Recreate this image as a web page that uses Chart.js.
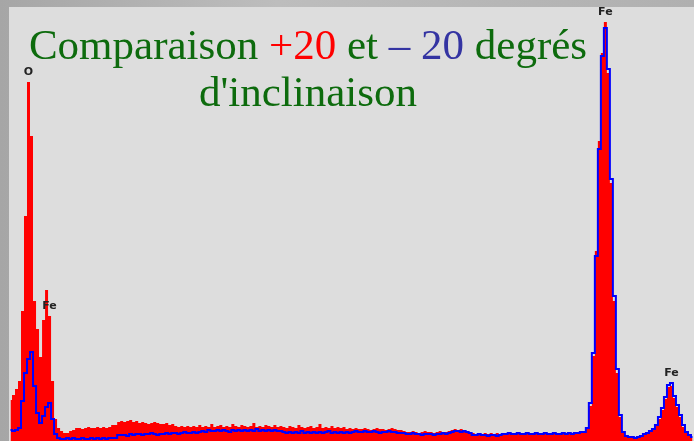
<!DOCTYPE html>
<html>
<head>
<meta charset="utf-8">
<script src="https://cdn.jsdelivr.net/npm/chart.js@4"></script>
<style>
    body {
        margin: 0;
        width: 694px;
        height: 441px;
        overflow: hidden;
        background: linear-gradient(90deg, #a6a6a6, #bdbdbd 40%, #b0b0b0);
        position: relative;
    }
    #panel {
        position: absolute;
        left: 9px;
        top: 7px;
        width: 685px;
        height: 434px;
        background: #dddddd;
    }
    #title {
        position: absolute;
        left: 0;
        top: 21px;
        width: 616px;
        text-align: center;
        font-family: "Liberation Serif", "Times New Roman", serif;
        font-size: 43px;
        line-height: 47px;
        color: #0d6b0d;
        white-space: nowrap;
    }
    #title .plus { color: #ff0000; }
    #title .minus { color: #3434a2; }
</style>
</head>
<body>
<div id="panel"><canvas id="spectrum" width="685" height="434"></canvas></div>
<div id="title">Comparaison <span class="plus">+20</span> et <span class="minus">– 20</span> degrés<br>d'inclinaison</div>
<script>
    // energy calibration of the channels (keV)
    const keVStart = 0.31;
    const keVStep = 0.0307;

    // counts for the +20 degree tilt (red, filled)
    const countsPlus20 = [
        41, 46, 52, 60, 130, 225, 359, 305, 140, 112, 84, 121, 151, 125, 60, 22, 13, 10, 8, 8,
        10, 11, 13, 13, 12, 13, 14, 13, 13, 14, 13, 14, 13, 14, 16, 16, 19, 20, 19, 20,
        21, 19, 20, 18, 19, 18, 17, 18, 19, 18, 17, 17, 18, 16, 17, 15, 14, 15, 14, 15,
        14, 15, 14, 16, 14, 15, 14, 17, 14, 15, 16, 14, 15, 14, 17, 15, 14, 16, 15, 14,
        15, 18, 14, 15, 14, 16, 15, 14, 16, 14, 15, 14, 13, 15, 14, 13, 16, 14, 13, 14,
        15, 13, 14, 17, 13, 14, 13, 15, 13, 14, 13, 14, 12, 13, 12, 13, 12, 12, 13, 12,
        11, 12, 13, 12, 12, 11, 12, 13, 12, 11, 11, 10, 9, 9, 10, 9, 8, 9, 10, 9,
        9, 8, 9, 10, 9, 9, 10, 11, 12, 11, 12, 11, 10, 9, 8, 7, 8, 7, 8, 7,
        8, 7, 8, 7, 7, 8, 9, 7, 8, 7, 8, 7, 7, 8, 7, 9, 7, 8, 7, 7,
        8, 7, 8, 7, 7, 8, 9, 8, 7, 8, 8, 9, 12, 35, 85, 190, 300, 388, 419, 368,
        258, 140, 68, 24, 8, 5, 4, 4, 3, 4, 5, 6, 7, 9, 11, 15, 22, 31, 42, 54,
        55, 43, 34, 24, 14, 8, 5, 3
    ];

    // counts for the -20 degree tilt (blue line)
    const countsMinus20 = [
        11, 10, 11, 13, 40, 68, 82, 89, 55, 28, 18, 25, 34, 38, 22, 7, 3, 2, 2, 3,
        2, 3, 2, 2, 3, 2, 2, 3, 2, 3, 2, 3, 2, 3, 3, 3, 6, 6, 6, 5,
        7, 6, 7, 7, 6, 7, 7, 8, 7, 6, 7, 7, 8, 7, 8, 8, 7, 8, 9, 8,
        8, 9, 8, 9, 10, 9, 11, 10, 10, 11, 10, 11, 10, 9, 11, 10, 11, 10, 11, 10,
        11, 10, 12, 10, 11, 10, 11, 10, 11, 10, 10, 9, 8, 9, 8, 9, 8, 10, 8, 9,
        8, 9, 8, 9, 8, 9, 10, 8, 9, 8, 9, 8, 9, 8, 9, 10, 9, 9, 10, 9,
        9, 10, 9, 8, 9, 9, 10, 9, 9, 8, 8, 8, 7, 7, 8, 7, 7, 6, 7, 7,
        7, 6, 7, 7, 8, 7, 8, 9, 10, 10, 9, 10, 9, 8, 6, 6, 7, 6, 6, 5,
        6, 6, 5, 6, 7, 7, 8, 7, 7, 8, 7, 7, 8, 7, 7, 8, 7, 7, 8, 7,
        7, 8, 7, 7, 8, 7, 8, 7, 8, 8, 9, 9, 13, 38, 88, 185, 292, 385, 413, 372,
        262, 145, 72, 26, 9, 5, 4, 4, 3, 4, 5, 7, 8, 10, 12, 16, 24, 33, 44, 56,
        58, 45, 36, 26, 16, 9, 6, 4
    ];

    // identified peaks: element and channel
    const peakNames = ['O', 'Fe', 'Fe', 'Fe'];
    const peakChannels = [6, 13, 198, 220];

    const energies = countsPlus20.map((c, i) => (keVStart + i * keVStep).toFixed(2));

    const peakLabels = {
        id: 'peakLabels',
        afterDatasetsDraw(chart) {
            const ctx = chart.ctx;
            const x = chart.scales.x;
            const y = chart.scales.y;
            ctx.save();
            ctx.font = 'bold 11px "DejaVu Sans", sans-serif';
            ctx.fillStyle = '#222222';
            ctx.textAlign = 'center';
            ctx.textBaseline = 'bottom';
            peakNames.forEach((name, k) => {
                const ch = peakChannels[k];
                const top = Math.max(countsPlus20[ch], countsMinus20[ch]);
                ctx.fillText(name, x.getPixelForValue(ch), y.getPixelForValue(top) - 4);
            });
            ctx.restore();
        }
    };

    new Chart(document.getElementById('spectrum').getContext('2d'), {
        type: 'line',
        data: {
            labels: energies,
            datasets: [
                {
                    label: '-20°',
                    data: countsMinus20,
                    borderColor: '#0000ff',
                    borderWidth: 2,
                    pointRadius: 0,
                    stepped: 'middle',
                    fill: false,
                    order: 0
                },
                {
                    label: '+20°',
                    data: countsPlus20,
                    borderWidth: 0,
                    borderColor: '#ff0000',
                    backgroundColor: '#ff0000',
                    pointRadius: 0,
                    stepped: 'middle',
                    fill: 'origin',
                    order: 1
                }
            ]
        },
        options: {
            responsive: false,
            animation: false,
            layout: { padding: 0 },
            scales: {
                x: { display: false, offset: true },
                y: { display: false, min: 0, max: 434 }
            },
            plugins: {
                legend: { display: false },
                tooltip: { enabled: false }
            }
        },
        plugins: [peakLabels]
    });
</script>
</body>
</html>
